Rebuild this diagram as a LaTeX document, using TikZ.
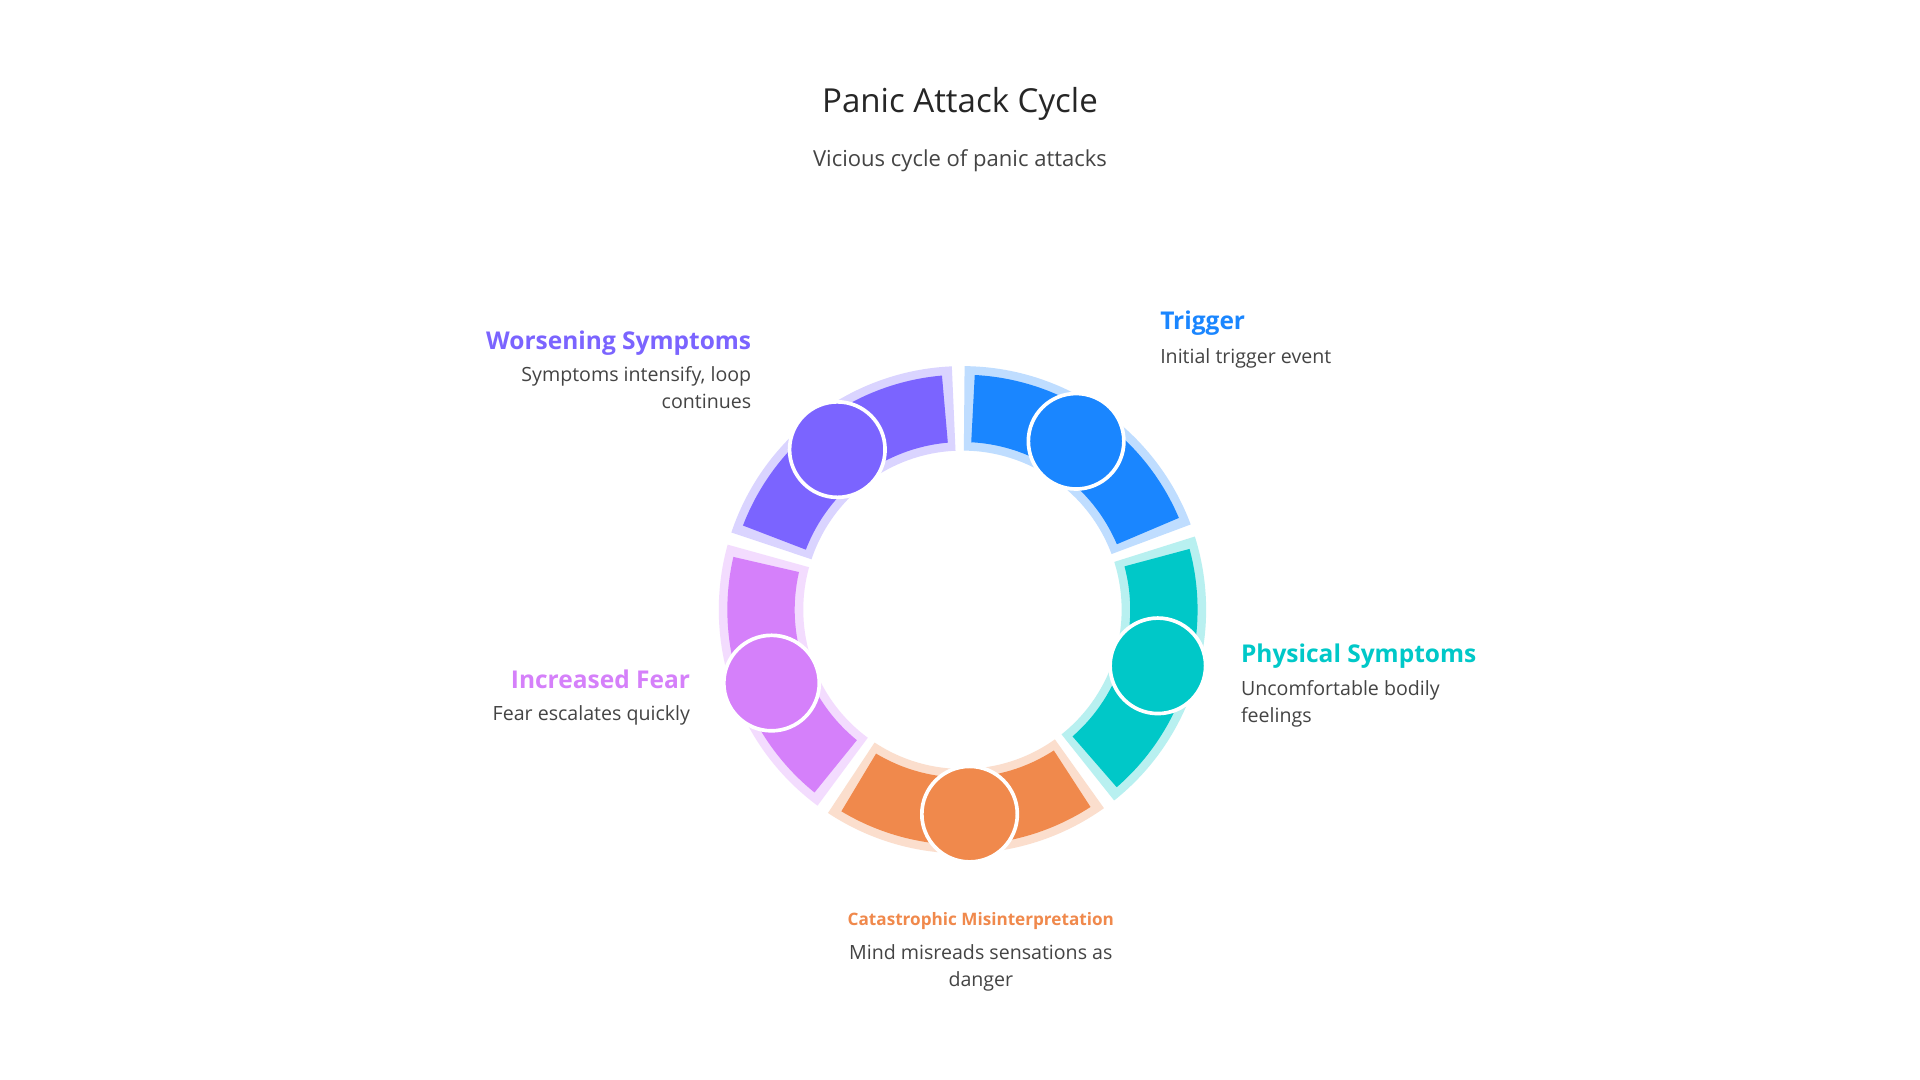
\documentclass[tikz,border=0pt]{standalone}
\usepackage{fontspec}
\setmainfont{Open Sans}
\definecolor{cblue}{HTML}{1A86FF}
\definecolor{cteal}{HTML}{00C8C8}
\definecolor{corange}{HTML}{F0894C}
\definecolor{cpink}{HTML}{D580FA}
\definecolor{cpurple}{HTML}{7B64FF}
\definecolor{ctext}{HTML}{444444}
\begin{document}
\begin{tikzpicture}[x=1pt,y=1pt,
  dot/.style={circle,draw=white,line width=3pt,minimum size=78pt,inner sep=0pt},
  head/.style={font=\bfseries\fontsize{20}{24}\selectfont},
  desc/.style={font=\fontsize{16}{22}\selectfont,text=ctext}]
\useasboundingbox (0,0) rectangle (1568,882);
\fill[white] (0,0) rectangle (1568,882);
\node (title) at (784,797) {\fontsize{27}{32}\selectfont\color{black!85}Panic Attack Cycle};
\node (sub) at (784,751) {\fontsize{18}{22}\selectfont\color{ctext}Vicious cycle of panic attacks};
\begin{scope}[shift={(786,384)}]
\foreach \c/\col in {55/cblue,-17/cteal,-89/corange,-161/cpink,-233/cpurple}{
  \pgfmathsetmacro{\aa}{\c+34.5}\pgfmathsetmacro{\ab}{\c-34.5}
  \fill[\col!28] (\aa:199) arc (\aa:\ab:199) -- (\ab:130) arc (\ab:\aa:130) -- cycle;
  \pgfmathsetmacro{\ba}{\c+32}\pgfmathsetmacro{\bb}{\c-32}
  \fill[\col] (\ba:192) arc (\ba:\bb:192) -- (\bb:137) arc (\bb:\ba:137) -- cycle;
}
\node[dot,fill=cblue] (d1) at (56:166) {};
\node[dot,fill=cteal] (d2) at (-16:166) {};
\node[dot,fill=corange] (d3) at (-88:167) {};
\node[dot,fill=cpink] (d4) at (-159:167) {};
\node[dot,fill=cpurple] (d5) at (128:166) {};
\end{scope}
\node[head,text=cblue,anchor=west] (t1) at (944,618) {Trigger};
\node[desc,anchor=west] (t1d) at (944,589) {Initial trigger event};
\node[head,text=cteal,anchor=west] (t2) at (1010,346) {Physical Symptoms};
\node[desc,anchor=north west,align=left] (t2d) at (1010,330) {Uncomfortable bodily\\feelings};
\node[font=\bfseries\fontsize{14}{17}\selectfont,text=corange] (t3) at (801,130) {Catastrophic Misinterpretation};
\node[desc,anchor=north,align=center] (t3d) at (801,114) {Mind misreads sensations as\\danger};
\node[head,text=cpink,anchor=east] (t4) at (567,327) {Increased Fear};
\node[desc,anchor=east] (t4d) at (567,298) {Fear escalates quickly};
\node[head,text=cpurple,anchor=east] (t5) at (617,602) {Worsening Symptoms};
\node[desc,anchor=north east,align=right] (t5d) at (617,586) {Symptoms intensify, loop\\continues};
\end{tikzpicture}
\end{document}
